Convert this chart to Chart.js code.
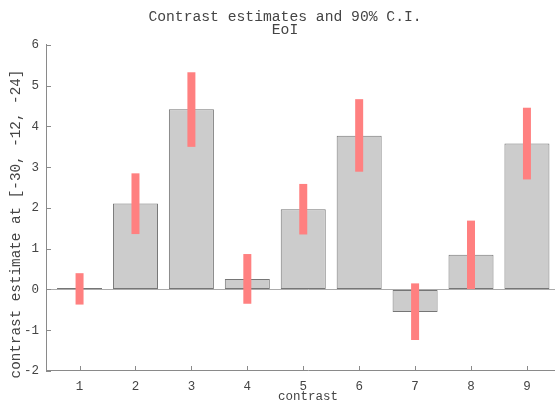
<!DOCTYPE html>
<html>
<head>
<meta charset="utf-8">
<script src="https://cdn.jsdelivr.net/npm/chart.js@4.4.0/dist/chart.umd.min.js"></script>
<style>
html,body{margin:0;padding:0;background:#fff;overflow:hidden;}
#wrap{width:570px;height:401px;position:relative;}
</style>
</head>
<body>
<div id="wrap"><canvas id="c"></canvas></div>
<script>
const contrasts = [1, 2, 3, 4, 5, 6, 7, 8, 9];
const estimates = [0.02, 2.11, 4.42, 0.26, 1.97, 3.77, -0.55, 0.85, 3.58];
const ciLow = [-0.37, 1.36, 3.50, -0.35, 1.35, 2.89, -1.24, 0.01, 2.70];
const ciHigh = [0.40, 2.85, 5.33, 0.87, 2.59, 4.67, 0.15, 1.69, 4.46];
const yTicks = [-2, -1, 0, 1, 2, 3, 4, 5, 6];
const xTicks = [1, 2, 3, 4, 5, 6, 7, 8, 9];
const titleLines = ['Contrast estimates and 90% C.I.', 'EoI'];
const xTitle = 'contrast';
const yTitle = 'contrast estimate at [-30, -12, -24]';

const FONT = '"Liberation Mono", "DejaVu Sans Mono", monospace';
const TEXT = '#444444';
const AXIS = '#8a8a8a';
const ZERO = '#ababab';

const extras = {
  id: 'extras',
  afterDatasetsDraw(chart) {
    const ctx = chart.ctx, x = chart.scales.x, y = chart.scales.y;
    const area = chart.chartArea;
    ctx.save();
    ctx.strokeStyle = AXIS;
    ctx.lineWidth = 1;
    ctx.beginPath();
    y.ticks.forEach(t => {
      const py = Math.round(y.getPixelForValue(t.value)) + 0.5;
      ctx.moveTo(area.left, py);
      ctx.lineTo(area.left + 5, py);
    });
    x.ticks.forEach(t => {
      const px = Math.round(x.getPixelForValue(t.value)) + 0.5;
      ctx.moveTo(px, area.bottom);
      ctx.lineTo(px, area.bottom - 5);
    });
    ctx.stroke();
    ctx.restore();
  },
  afterDraw(chart) {
    const ctx = chart.ctx;
    ctx.save();
    ctx.fillStyle = TEXT;
    ctx.font = '14.3px ' + FONT;
    ctx.textAlign = 'center';
    ctx.textBaseline = 'middle';
    ctx.translate(16, 224);
    ctx.rotate(-Math.PI / 2);
    ctx.fillText(yTitle, 0, 0);
    ctx.restore();
  }
};

new Chart(document.getElementById('c'), {
  type: 'bar',
  data: {
    datasets: [
      {
        label: '90% C.I.',
        data: contrasts.map((c, i) => ({x: c, y: [ciLow[i], ciHigh[i]]})),
        backgroundColor: 'rgb(255,128,128)',
        borderWidth: 0,
        barPercentage: 0.143,
        categoryPercentage: 1,
        grouped: false,
        order: 0
      },
      {
        label: 'estimate',
        data: contrasts.map((c, i) => ({x: c, y: estimates[i]})),
        backgroundColor: '#cccccc',
        borderColor: '#767676',
        borderWidth: 1,
        borderSkipped: false,
        minBarLength: 1.5,
        barPercentage: 0.805,
        categoryPercentage: 1,
        grouped: false,
        order: 1
      }
    ]
  },
  options: {
    responsive: true,
    maintainAspectRatio: false,
    animation: false,
    layout: {padding: {left: 0, right: 0, top: 0, bottom: 0}},
    plugins: {
      legend: {display: false},
      tooltip: {enabled: false},
      title: {
        display: true,
        text: titleLines,
        color: TEXT,
        font: {family: FONT, size: 14.7, weight: 'normal', lineHeight: 0.9},
        padding: {top: 10.5, bottom: 8}
      }
    },
    scales: {
      x: {
        type: 'linear',
        min: 0.4,
        max: 9.77,
        offset: false,
        afterBuildTicks: s => { s.ticks = xTicks.map(v => ({value: v})); },
        afterFit: s => { s.height = 30; },
        border: {display: true, color: AXIS, width: 1},
        grid: {display: false, drawTicks: false},
        ticks: {color: TEXT, font: {family: FONT, size: 12.5}, padding: 8, maxRotation: 0, autoSkip: false},
        title: {display: true, text: xTitle, color: TEXT, font: {family: FONT, size: 12.5, lineHeight: 0.65}, padding: 0}
      },
      y: {
        type: 'linear',
        min: -2,
        max: 6,
        afterBuildTicks: s => { s.ticks = yTicks.map(v => ({value: v})); },
        afterFit: s => { s.width = 46; },
        border: {display: true, color: AXIS, width: 1},
        grid: {
          drawTicks: false,
          color: c => (c.tick && c.tick.value === 0 ? ZERO : 'rgba(0,0,0,0)'),
          lineWidth: 1
        },
        ticks: {color: TEXT, font: {family: FONT, size: 12.5}, padding: 7},
        title: {display: false}
      }
    }
  },
  plugins: [extras]
});
</script>
</body>
</html>
